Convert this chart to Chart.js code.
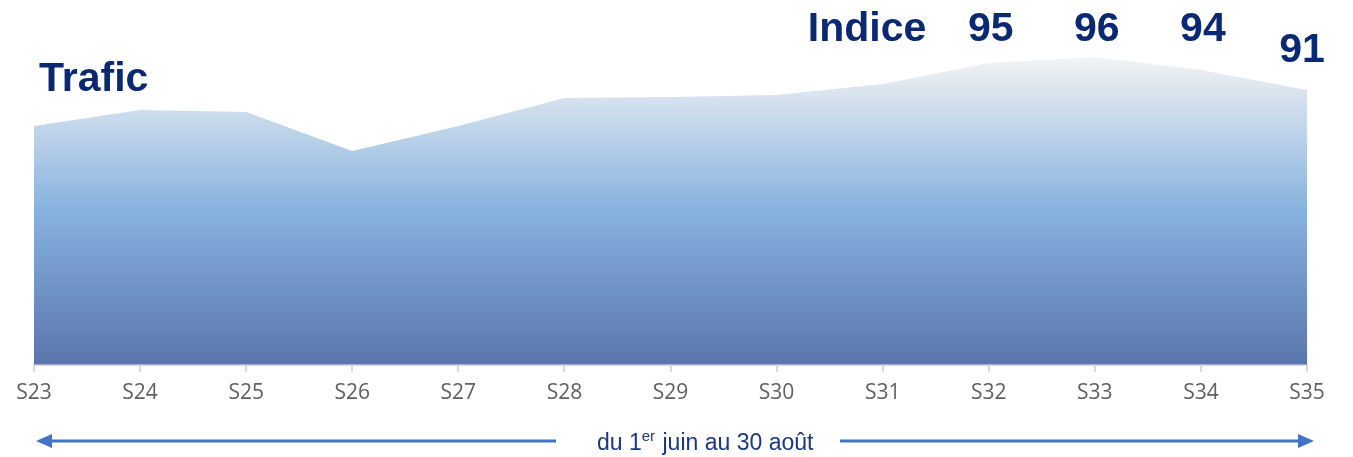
<!DOCTYPE html>
<html>
<head>
<meta charset="utf-8">
<script src="https://cdn.jsdelivr.net/npm/chart.js@4/dist/chart.umd.min.js"></script>
<style>
  html, body { margin: 0; padding: 0; background: #fff; }
  #wrap { width: 1353px; height: 457px; position: relative; }
</style>
</head>
<body>
<div id="wrap"><canvas id="myChart"></canvas></div>
<script>
const weeks = ['S23', 'S24', 'S25', 'S26', 'S27', 'S28', 'S29', 'S30', 'S31', 'S32', 'S33', 'S34', 'S35'];
const trafic = [239, 255, 253, 214, 239, 267, 268, 270, 281, 302, 308, 295, 275];
const indiceWeeks = ['S32', 'S33', 'S34', 'S35'];
const indiceValues = [95, 96, 94, 91];

const navy = '#0a2874';
const ctx = document.getElementById('myChart').getContext('2d');

// texts + arrow drawn over the chart
const annotations = {
  id: 'annotations',
  afterDraw(chart) {
    const c = chart.ctx;
    const x = chart.scales.x;
    c.save();
    c.fillStyle = navy;
    c.font = 'bold 41px "Liberation Sans", Arial, sans-serif';
    c.textBaseline = 'middle';
    c.textAlign = 'left';
    c.fillText('Trafic', 39, 80);
    c.textAlign = 'center';
    c.fillText('Indice', 867, 30);
    indiceWeeks.forEach((w, i) => {
      const px = x.getPixelForValue(weeks.indexOf(w));
      const py = i === indiceWeeks.length - 1 ? 51 : 30;
      c.fillText(String(indiceValues[i]), px + (i === 3 ? -5 : 2), py);
    });

    // arrow
    const y = 441;
    const x0 = x.getPixelForValue(0) + 2;
    const x1 = x.getPixelForValue(weeks.length - 1) + 7;
    c.strokeStyle = '#4472c4';
    c.fillStyle = '#4472c4';
    c.lineWidth = 3;
    c.beginPath();
    c.moveTo(x0 + 14, y); c.lineTo(556, y);
    c.moveTo(840, y); c.lineTo(x1 - 14, y);
    c.stroke();
    c.beginPath();
    c.moveTo(x0, y); c.lineTo(x0 + 16, y - 7); c.lineTo(x0 + 16, y + 7); c.closePath();
    c.fill();
    c.beginPath();
    c.moveTo(x1, y); c.lineTo(x1 - 16, y - 7); c.lineTo(x1 - 16, y + 7); c.closePath();
    c.fill();

    // "du 1er juin au 30 août"
    c.fillStyle = '#1a3685';
    c.textAlign = 'left';
    c.textBaseline = 'alphabetic';
    c.font = '23px "Liberation Sans", Arial, sans-serif';
    let tx = 597;
    const base = 450;
    c.fillText('du 1', tx, base);
    tx += c.measureText('du 1').width;
    c.font = '15px "Liberation Sans", Arial, sans-serif';
    c.fillText('er', tx, base - 9);
    tx += c.measureText('er').width + 1;
    c.font = '23px "Liberation Sans", Arial, sans-serif';
    c.fillText(' juin au 30 août', tx, base);
    c.restore();
  }
};

new Chart(ctx, {
  type: 'line',
  data: {
    labels: weeks,
    datasets: [{
      data: trafic,
      fill: 'origin',
      borderWidth: 0,
      pointRadius: 0,
      tension: 0,
      backgroundColor: context => {
        const area = context.chart.chartArea;
        if (!area) return '#87b2df';
        const g = context.chart.ctx.createLinearGradient(0, area.top + 15, 0, area.bottom);
        g.addColorStop(0, '#f4f4f4');
        g.addColorStop(0.5, '#87b2df');
        g.addColorStop(1, '#5a75ad');
        return g;
      }
    }]
  },
  options: {
    responsive: true,
    maintainAspectRatio: false,
    animation: false,
    layout: { padding: { top: 40, left: 34, right: 46, bottom: 42 } },
    plugins: { legend: { display: false }, tooltip: { enabled: false } },
    scales: {
      x: {
        offset: false,
        grid: { drawOnChartArea: false, drawTicks: true, tickLength: 7, color: '#d9d9d9', lineWidth: 2 },
        border: { color: '#d9d9d9', width: 2 },
        ticks: { color: '#606060', font: { family: '"Open Sans", sans-serif', size: 21 }, padding: 9, maxRotation: 0 }
      },
      y: {
        display: false,
        min: 0,
        max: 325
      }
    }
  },
  plugins: [annotations]
});
</script>
</body>
</html>
